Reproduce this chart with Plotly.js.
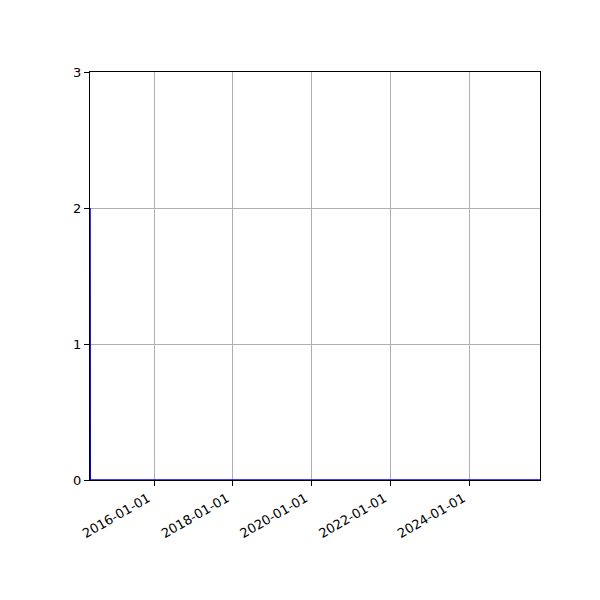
<!DOCTYPE html>
<html>
<head>
<meta charset="utf-8">
<script src="https://cdn.plot.ly/plotly-3.0.1.min.js"></script>
<style>html,body{margin:0;padding:0;background:#fff}#chart{width:600px;height:600px}</style>
</head>
<body>
<div id="chart"></div>
<script>
var dates = ['2014-05-17', '2014-05-19', '2016-01-01', '2018-01-01', '2020-01-01', '2022-01-01', '2024-01-01', '2025-10-20'];
var values = [2, 0, 0, 0, 0, 0, 0, 0];
var tickVals = ['2016-01-01', '2018-01-01', '2020-01-01', '2022-01-01', '2024-01-01'];
var tickText = ['2016-01-01', '2018-01-01', '2020-01-01', '2022-01-01', '2024-01-01'];
var yTicks = [0, 1, 2, 3];

var trace = {
  x: dates, y: values, type: 'scatter', mode: 'lines',
  line: {color: '#0000ff', width: 1.6},
  hoverinfo: 'skip'
};
var layout = {
  width: 600, height: 600,
  margin: {l: 90, r: 60, t: 72, b: 120},
  paper_bgcolor: '#fff', plot_bgcolor: '#fff',
  showlegend: false,
  font: {family: 'DejaVu Sans', size: 13, color: '#000'},
  xaxis: {
    type: 'date', range: ['2014-05-17', '2025-10-20'],
    tickmode: 'array', tickvals: tickVals, ticktext: tickText,
    tickangle: -30, ticks: 'outside', ticklen: 5, tickwidth: 1, tickcolor: '#000',
    ticklabelshift: -6,
    showgrid: true, gridcolor: '#b0b0b0', gridwidth: 1,
    showline: true, linecolor: '#000', linewidth: 1, mirror: true,
    zeroline: false, tickfont: {family: 'DejaVu Sans', size: 13, color: '#000'}
  },
  yaxis: {
    range: [0, 3], tickmode: 'array', tickvals: yTicks,
    ticks: 'outside', ticklen: 5, tickwidth: 1, tickcolor: '#000',
    showgrid: true, gridcolor: '#b0b0b0', gridwidth: 1,
    showline: true, linecolor: '#000', linewidth: 1, mirror: true,
    zeroline: false, tickfont: {family: 'DejaVu Sans', size: 13, color: '#000'}
  }
};
Plotly.newPlot('chart', [trace], layout, {displayModeBar: false, staticPlot: true});
</script>
</body>
</html>
